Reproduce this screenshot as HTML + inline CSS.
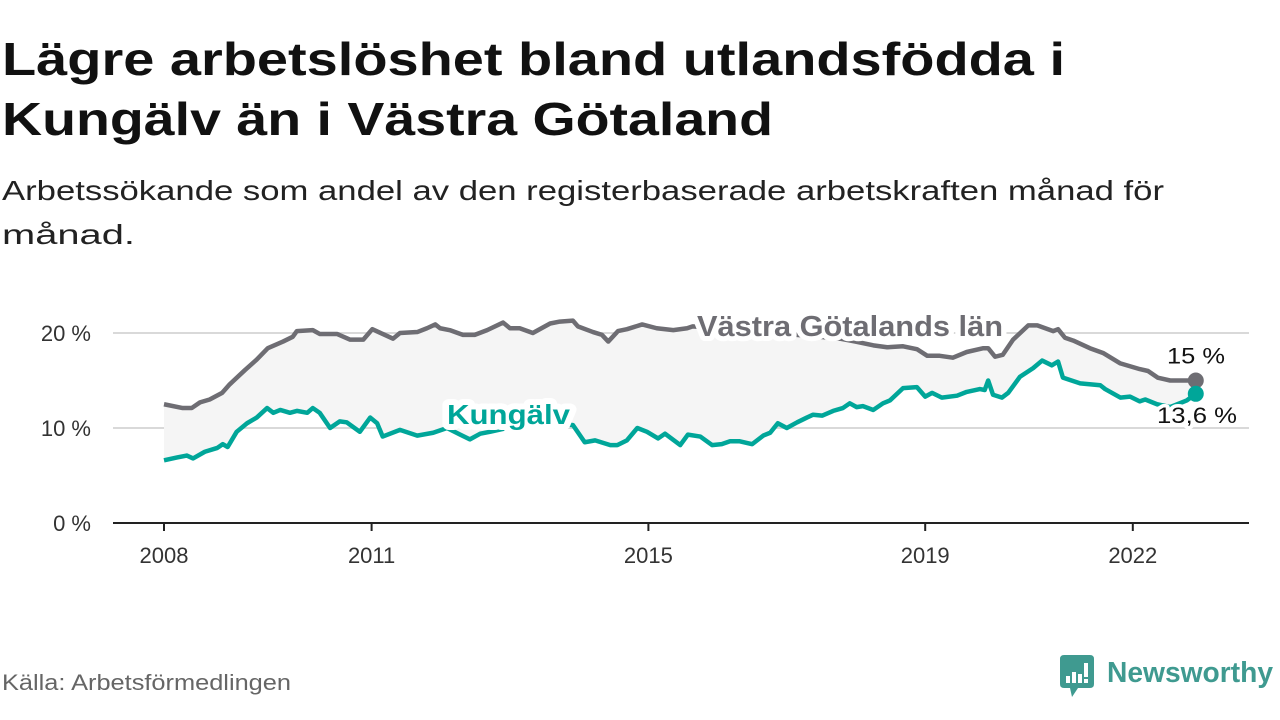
<!DOCTYPE html>
<html><head><meta charset="utf-8"><style>
html,body{margin:0;padding:0;background:#fff;}
svg{display:block;font-family:"Liberation Sans",sans-serif;}
</style></head><body>
<svg id="chart" width="1280" height="720" viewBox="0 0 1280 720">
<text x="2" y="75" font-size="46" font-weight="bold" fill="#111" textLength="1063" lengthAdjust="spacingAndGlyphs">Lägre arbetslöshet bland utlandsfödda i</text>
<text x="2" y="135" font-size="46" font-weight="bold" fill="#111" textLength="771" lengthAdjust="spacingAndGlyphs">Kungälv än i Västra Götaland</text>
<text x="2" y="200" font-size="28" fill="#222" textLength="1162" lengthAdjust="spacingAndGlyphs">Arbetssökande som andel av den registerbaserade arbetskraften månad för</text>
<text x="2" y="244" font-size="28" fill="#222" textLength="133" lengthAdjust="spacingAndGlyphs">månad.</text>
<g id="grid"></g>
<g id="yaxis"></g>
<g id="xaxis"></g>
<g id="plot"></g>
<text x="2" y="690" font-size="22" fill="#666" textLength="289" lengthAdjust="spacingAndGlyphs">Källa: Arbetsförmedlingen</text>
<g>
<path d="M1064 655 H1090 Q1094 655 1094 659 V684 Q1094 688 1090 688 H1078 L1072 697 L1070 688 H1064 Q1060 688 1060 684 V659 Q1060 655 1064 655 Z" fill="#3f9a90"/>
<rect x="1066" y="676" width="4" height="7" fill="#fff"/><rect x="1072" y="672" width="4" height="11" fill="#fff"/><rect x="1078" y="674" width="4" height="9" fill="#fff"/><rect x="1084" y="663" width="4" height="14" fill="#fff"/><rect x="1084" y="679" width="4" height="4" fill="#fff"/>
<text x="1107" y="682" font-size="29" font-weight="bold" fill="#3f9a90" textLength="166" lengthAdjust="spacingAndGlyphs">Newsworthy</text>
</g>
</svg>
<script>
const vgYears=[2008.00,2008.27,2008.40,2008.52,2008.66,2008.84,2008.95,2009.17,2009.34,2009.50,2009.72,2009.86,2009.92,2010.15,2010.25,2010.50,2010.69,2010.88,2011.01,2011.16,2011.31,2011.41,2011.66,2011.80,2011.92,2011.99,2012.13,2012.32,2012.49,2012.67,2012.90,2013.00,2013.14,2013.33,2013.58,2013.72,2013.91,2013.98,2014.20,2014.33,2014.42,2014.56,2014.69,2014.91,2015.12,2015.36,2015.56,2015.64,2016.18,2016.76,2017.34,2017.77,2017.99,2018.25,2018.45,2018.68,2018.88,2019.03,2019.21,2019.40,2019.60,2019.84,2019.91,2020.01,2020.12,2020.27,2020.49,2020.62,2020.85,2020.92,2021.02,2021.14,2021.38,2021.57,2021.82,2022.10,2022.22,2022.36,2022.54,2022.73,2022.91];
const vgValues=[12.5,12.1,12.1,12.7,13.0,13.7,14.6,16.1,17.2,18.4,19.1,19.6,20.2,20.3,19.9,19.9,19.3,19.3,20.4,19.9,19.4,20.0,20.1,20.5,20.9,20.5,20.3,19.8,19.8,20.3,21.1,20.5,20.5,20.0,21.0,21.2,21.3,20.7,20.1,19.8,19.1,20.2,20.4,20.9,20.5,20.3,20.5,20.7,20.4,20.0,19.7,19.4,19.1,18.7,18.5,18.6,18.3,17.6,17.6,17.4,18.0,18.4,18.4,17.5,17.7,19.3,20.8,20.8,20.2,20.4,19.5,19.2,18.4,17.9,16.8,16.2,16.0,15.3,15.0,15.0,15.0];
const kuYears=[2008.00,2008.19,2008.33,2008.42,2008.59,2008.77,2008.85,2008.92,2009.05,2009.20,2009.34,2009.49,2009.58,2009.68,2009.82,2009.92,2010.07,2010.15,2010.25,2010.40,2010.54,2010.64,2010.83,2010.98,2011.08,2011.16,2011.41,2011.66,2011.89,2012.09,2012.28,2012.42,2012.57,2012.71,2013.14,2013.58,2013.91,2014.08,2014.23,2014.45,2014.55,2014.69,2014.84,2014.98,2015.14,2015.24,2015.46,2015.57,2015.75,2015.92,2016.06,2016.18,2016.32,2016.50,2016.66,2016.76,2016.87,2017.00,2017.15,2017.29,2017.38,2017.51,2017.67,2017.81,2017.91,2018.01,2018.10,2018.25,2018.39,2018.49,2018.68,2018.88,2019.00,2019.10,2019.24,2019.46,2019.60,2019.79,2019.86,2019.91,2019.98,2020.11,2020.20,2020.37,2020.56,2020.69,2020.83,2020.92,2020.99,2021.24,2021.53,2021.60,2021.82,2021.96,2022.10,2022.18,2022.35,2022.54,2022.78,2022.91];
const kuValues=[6.6,6.9,7.1,6.8,7.5,7.9,8.3,8.0,9.6,10.5,11.1,12.1,11.6,11.9,11.6,11.8,11.6,12.1,11.6,10.0,10.7,10.6,9.6,11.1,10.5,9.1,9.8,9.2,9.5,10.0,9.3,8.8,9.4,9.6,10.3,10.6,10.3,8.5,8.7,8.2,8.2,8.7,10.0,9.6,8.9,9.4,8.2,9.3,9.1,8.2,8.3,8.6,8.6,8.3,9.2,9.5,10.5,10.0,10.6,11.1,11.4,11.3,11.8,12.1,12.6,12.2,12.3,11.9,12.6,12.9,14.2,14.3,13.3,13.7,13.2,13.4,13.8,14.1,14.0,15.0,13.5,13.2,13.7,15.4,16.3,17.1,16.6,17.0,15.3,14.7,14.5,14.1,13.2,13.3,12.8,13.0,12.5,12.2,12.9,13.6];
const yTicks=[0,10,20];
const yTickLabels=["0 %","10 %","20 %"];
const xTicks=[2008,2011,2015,2019,2022];
const xTickLabels=["2008","2011","2015","2019","2022"];
const endLabels=["15 %","13,6 %"];

const NS="http://www.w3.org/2000/svg";
const X0=113,X1=1249;
function xs(y){return 164+(y-2008)*69.2;}
function ys(v){return 523-v*9.5;}
function mk(tag,attrs,parent){const e=document.createElementNS(NS,tag);for(const k in attrs)e.setAttribute(k,attrs[k]);parent.appendChild(e);return e;}
const grid=document.getElementById('grid'),yax=document.getElementById('yaxis'),xax=document.getElementById('xaxis'),plot=document.getElementById('plot');
yTicks.forEach((t,i)=>{
  if(t>0){const l=mk('line',{x1:X0,x2:X1,y1:ys(t),y2:ys(t),stroke:'#d9d9d9','stroke-width':2},grid);
  
  }
  const tx=mk('text',{x:91,y:ys(t)+8,'text-anchor':'end','font-size':22,fill:'#333'},yax);
  tx.textContent=yTickLabels[i];
  
  
});
const base=mk('line',{x1:X0,x2:X1,y1:ys(0),y2:ys(0),stroke:'#222','stroke-width':2},xax);


xTicks.forEach((t,i)=>{
  const tk=mk('line',{x1:xs(t),x2:xs(t),y1:ys(0),y2:ys(0)+8,stroke:'#222','stroke-width':2},xax);
  
  
  const tx=mk('text',{x:xs(t),y:563,'text-anchor':'middle','font-size':22,fill:'#333'},xax);
  tx.textContent=xTickLabels[i];
  
  
});
const vgPts=vgYears.map((y,i)=>[xs(y),ys(vgValues[i])]);
const kuPts=kuYears.map((y,i)=>[xs(y),ys(kuValues[i])]);
const band=mk('polygon',{points:vgPts.concat(kuPts.slice().reverse()).map(p=>p.join(',')).join(' '),fill:'#f5f5f5'},plot);


const vgLine=mk('polyline',{points:vgPts.map(p=>p.join(',')).join(' '),fill:'none',stroke:'#6e6d73','stroke-width':4.5,'stroke-linejoin':'round'},plot);


const kuLine=mk('polyline',{points:kuPts.map(p=>p.join(',')).join(' '),fill:'none',stroke:'#00a699','stroke-width':4.5,'stroke-linejoin':'round'},plot);


function label(txt,x,y,size,weight,fill,name,len,sw){
  const t=mk('text',{x:x,y:y,'font-size':size,'font-weight':weight,fill:fill,stroke:'#fff','stroke-width':sw,'paint-order':'stroke','stroke-linejoin':'round',textLength:len,lengthAdjust:'spacingAndGlyphs'},plot);
  t.textContent=txt;
  
  
  return t;
}
label('Västra Götalands län',697,336,29,'bold','#6e6d73','vastra-gotaland-label',306,10);
label('Kungälv',447,424,28,'bold','#00a699','kungalv-label',123,12);
const lv=vgPts[vgPts.length-1],lk=kuPts[kuPts.length-1];
const d1=mk('circle',{cx:lv[0],cy:lv[1],r:8,fill:'#6e6d73'},plot);


const d2=mk('circle',{cx:lk[0],cy:lk[1],r:8,fill:'#00a699'},plot);


label(endLabels[0],1167,lv[1]-17,22,'normal','#111','vastra-gotaland-end-value',58,7);
label(endLabels[1],1157,lk[1]+29,22,'normal','#111','kungalv-end-value',80,7);
</script>
</body></html>
